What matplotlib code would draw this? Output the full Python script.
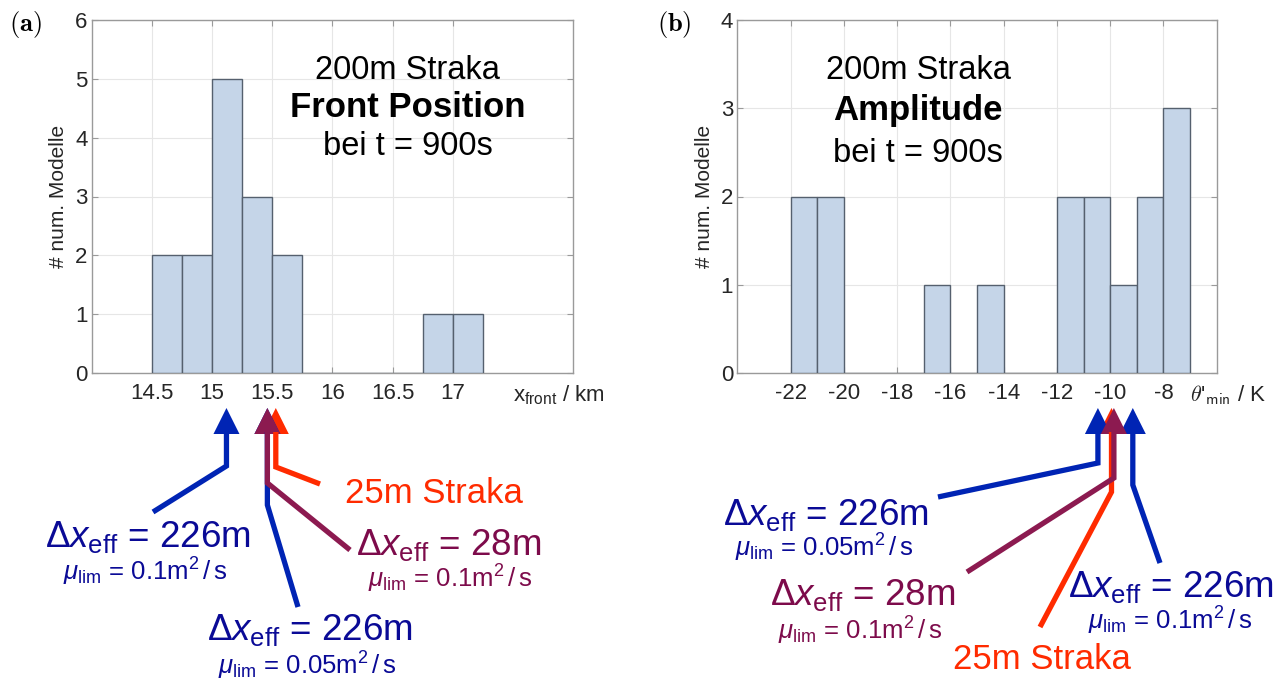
import numpy as np
import matplotlib
matplotlib.use("Agg")
import matplotlib.pyplot as plt
from matplotlib.patches import Polygon

plt.rcParams['font.family'] = ['Liberation Sans', 'DejaVu Sans']
plt.rcParams['mathtext.fontset'] = 'custom'
plt.rcParams['mathtext.rm'] = 'Liberation Sans'
plt.rcParams['mathtext.it'] = 'Liberation Sans:italic'
plt.rcParams['mathtext.bf'] = 'Liberation Sans:bold'

# histogram (a): front position, bins 0.25 km
front_edges = [14.5, 14.75, 15.0, 15.25, 15.5, 15.75, 16.0, 16.25, 16.5, 16.75, 17.0, 17.25]
front_counts = [2, 2, 5, 3, 2, 0, 0, 0, 0, 1, 1]
front_ticks = [14.5, 15, 15.5, 16, 16.5, 17]
front_ticklabels = ['14.5', '15', '15.5', '16', '16.5', '17']

# histogram (b): amplitude, bins 1 K
amp_edges = list(range(-22, -6))
amp_counts = [2, 2, 0, 0, 0, 1, 0, 1, 0, 0, 2, 2, 1, 2, 3]
amp_ticks = [-22, -20, -18, -16, -14, -12, -10, -8]

# model results marked by arrows (value on x axis)
front_marks = {'blue1': 15.12, 'red': 15.53, 'blue2': 15.46, 'purple': 15.46}
amp_marks = {'blue1': -10.46, 'red': -9.95, 'purple': -9.86, 'blue2': -9.15}

W, H = 1284, 681
BAR_FACE = '#c5d5e8'
BAR_EDGE = '#55606e'
BLUE_L = '#0024b4'
BLUE_T = '#0a0a96'
PURP_L = '#8c1a50'
PURP_T = '#7d0b4b'
RED = '#ff2b00'
TXT = '#262626'

fig = plt.figure(figsize=(W / 100, H / 100), dpi=100)


def make_axes(rect, edges, counts, xlim, ylim, xticks, xticklabels):
    ax = fig.add_axes(rect)
    edges = np.array(edges, dtype=float)
    ax.bar(edges[:-1], counts, width=np.diff(edges), align='edge',
           color=BAR_FACE, edgecolor=BAR_EDGE, linewidth=1.0, zorder=3)
    ax.set_xlim(*xlim)
    ax.set_ylim(*ylim)
    ax.set_xticks(xticks)
    ax.set_xticklabels(xticklabels)
    ax.set_yticks(range(ylim[0], ylim[1] + 1))
    ax.grid(True, color='#e6e6e6', linewidth=0.8, zorder=0)
    ax.set_axisbelow(True)
    for s in ax.spines.values():
        s.set_color('#9a9a9a')
        s.set_linewidth(1.0)
    ax.tick_params(direction='in', length=4, width=0.8, color='#9a9a9a',
                   labelsize=16, labelcolor=TXT, top=True, right=True)
    ax.tick_params(axis='x', pad=7)
    ax.tick_params(axis='y', pad=3)
    ax.set_ylabel('# num. Modelle', fontsize=15, color=TXT, labelpad=5)
    return ax


ax1 = make_axes([91.7 / W, 1 - 373 / H, 481.3 / W, 353 / H],
                front_edges, front_counts, (14, 18), (0, 6),
                front_ticks, front_ticklabels)
ax2 = make_axes([737.3 / W, 1 - 373 / H, 479.4 / W, 353 / H],
                amp_edges, amp_counts, (-24, -6), (0, 4),
                amp_ticks, [str(t) for t in amp_ticks])

ax1.text(0.875, -0.062, r'x$_{\mathrm{front}}$ / km', transform=ax1.transAxes,
         ha='left', va='center', fontsize=16, color=TXT)
ax2.text(0.944, -0.062, r"$\theta$'$_{\mathsf{min}}$ / K", transform=ax2.transAxes,
         ha='left', va='center', fontsize=16, color=TXT, math_fontfamily='cm')

ax1.text(0.657, 0.858, '200m Straka', transform=ax1.transAxes, ha='center', va='center', fontsize=23.5)
ax1.text(0.657, 0.751, 'Front Position', transform=ax1.transAxes, ha='center', va='center',
         fontsize=25, fontweight='bold')
ax1.text(0.657, 0.643, 'bei t = 900s', transform=ax1.transAxes, ha='center', va='center', fontsize=23.5)
ax2.text(0.377, 0.858, '200m Straka', transform=ax2.transAxes, ha='center', va='center', fontsize=23.5)
ax2.text(0.377, 0.745, 'Amplitude', transform=ax2.transAxes, ha='center', va='center',
         fontsize=25, fontweight='bold')
ax2.text(0.377, 0.623, 'bei t = 900s', transform=ax2.transAxes, ha='center', va='center', fontsize=23.5)

fig.text(25 / W, 1 - 24 / H, r'$\mathbf{(a)}$', math_fontfamily='cm', fontsize=19, ha='center', va='center')
fig.text(674 / W, 1 - 24 / H, r'$\mathbf{(b)}$', math_fontfamily='cm', fontsize=19, ha='center', va='center')

# overlay in pixel coordinates for the arrows and their labels
ov = fig.add_axes([0, 0, 1, 1], zorder=10)
ov.set_xlim(0, W)
ov.set_ylim(H, 0)
ov.axis('off')
ov.patch.set_alpha(0)

TIP_Y = 408
HEAD = 26


def data_to_px(ax, v):
    x, _ = ax.transData.transform((v, 0))
    return x


def arrow(ax, value, knee_y, end, color):
    tx = data_to_px(ax, value)
    ov.plot([tx, tx, end[0]], [TIP_Y + HEAD - 2, knee_y, end[1]], color=color,
            linewidth=3.8, solid_capstyle='butt', solid_joinstyle='miter')
    ov.add_patch(Polygon([(tx, TIP_Y), (tx - 13, TIP_Y + HEAD), (tx + 13, TIP_Y + HEAD)],
                         closed=True, facecolor=color, edgecolor='none'))


# panel (a)
arrow(ax1, front_marks['red'], 467, (320, 484), RED)
arrow(ax1, front_marks['blue1'], 466, (153, 512), BLUE_L)
arrow(ax1, front_marks['blue2'], 505, (298, 607), BLUE_L)
arrow(ax1, front_marks['purple'], 483, (350, 550), PURP_L)

# panel (b)
arrow(ax2, amp_marks['red'], 492, (1040, 627), RED)
arrow(ax2, amp_marks['blue1'], 463, (938, 497), BLUE_L)
arrow(ax2, amp_marks['blue2'], 485, (1160, 563), BLUE_L)
arrow(ax2, amp_marks['purple'], 478, (967, 572), PURP_L)

DX = r'$\Delta x_{\mathrm{eff}}$ = '
MU = r'$\mu_{\mathrm{lim}}$ = '
BIG = 26.5
SMALL = 18.5
M2S = r'm$^2\,/\,$s'

labels = [
    (45, 547, DX + '226m', BLUE_T, BIG),
    (63, 581, MU + '0.1' + M2S, BLUE_T, SMALL),
    (207, 640, DX + '226m', BLUE_T, BIG),
    (218, 675, MU + '0.05' + M2S, BLUE_T, SMALL),
    (356, 555, DX + '28m', PURP_T, BIG),
    (368, 588, MU + '0.1' + M2S, PURP_T, SMALL),
    (345, 503, '25m Straka', RED, 25),
    (723, 525, DX + '226m', BLUE_T, BIG),
    (735, 557, MU + '0.05' + M2S, BLUE_T, SMALL),
    (770, 605, DX + '28m', PURP_T, BIG),
    (778, 640, MU + '0.1' + M2S, PURP_T, SMALL),
    (953, 669, '25m Straka', RED, 25),
    (1068, 597, DX + '226m', BLUE_T, BIG),
    (1088, 630, MU + '0.1' + M2S, BLUE_T, SMALL),
]
for x, y, s, c, fs in labels:
    ov.text(x, y, s, color=c, fontsize=fs, ha='left', va='baseline')

fig.savefig('out.png', dpi=100)
